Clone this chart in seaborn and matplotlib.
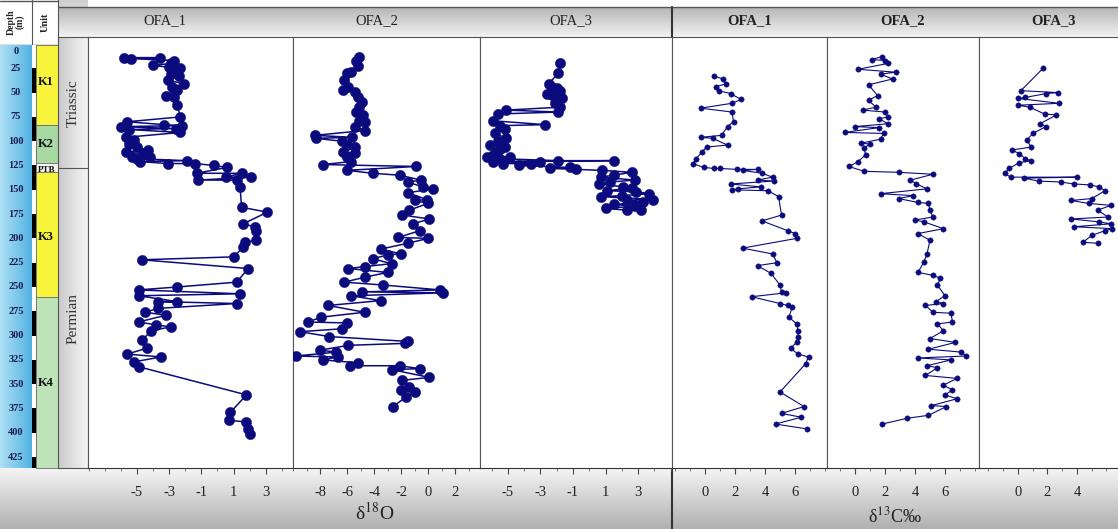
import numpy as np
import pandas as pd
import seaborn as sns
import matplotlib.pyplot as plt
from matplotlib.colors import LinearSegmentedColormap
from matplotlib.ticker import MultipleLocator

sns.set_theme(style="white")
plt.rcParams['font.family'] = ['Liberation Serif', 'DejaVu Serif']
plt.rcParams['mathtext.fontset'] = 'stix'

W, H = 1118, 529
NAVY = '#0b0b7d'

# ---- data (depth in m, isotope values in per mil) ----
d18o_1_depth = [14, 15, 14, 22, 17, 20, 24, 27, 25, 31, 33, 37, 41, 44, 47, 53, 55, 63, 75, 84, 85, 80,
                83, 88, 87, 91, 96, 99, 103, 106, 111, 113, 116, 109, 118, 116, 121, 123, 120, 123, 125,
                127, 133, 140, 137, 133, 137, 140, 147, 168, 173, 185, 188, 192, 202, 204, 209, 219,
                222, 231, 245, 250, 253, 257, 259, 265, 267, 265, 272, 279, 276, 286, 291, 289, 295,
                305, 313, 319, 322, 327, 332, 361, 379, 387, 389, 396, 401]
d18o_1 = [-5.8, -5.4, -3.6, -4.0, -2.7, -2.9, -3.0, -2.6, -2.3, -2.9, -2.4, -3.1, -2.1, -2.8, -2.5, -3.2,
          -2.7, -2.5, -2.3, -2.2, -6.0, -5.6, -3.3, -5.5, -2.6, -2.3, -5.7, -5.2, -5.5, -5.0, -5.7, -4.6,
          -5.3, -4.3, -5.0, -4.2, -4.8, -3.1, -1.9, -1.4, -0.2, 0.6, -1.3, -1.2, 0.5, 1.5, 2.1, 1.2, 1.4,
          1.5, 3.1, 1.6, 2.3, 2.4, 2.4, 1.7, 1.6, 1.0, -4.7, 1.9, 1.2, -2.5, -4.9, 1.4, -4.9, -2.5, 1.2,
          -3.7, -3.7, -3.2, -4.5, -4.9, -2.9, -3.8, -4.1, -4.7, -4.4, -5.6, -3.5, -5.2, -4.9, 1.8, 0.8,
          0.7, 1.8, 1.9, 2.0]

d18o_2_depth = [13, 18, 23, 30, 29, 37, 44, 47, 49, 55, 60, 65, 70, 73, 79, 80, 85, 89, 94, 97, 96, 100,
                104, 106, 111, 116, 112, 121, 124, 126, 130, 133, 135, 142, 140, 147, 149, 153, 161,
                160, 164, 171, 176, 180, 185, 192, 199, 200, 205, 216, 211, 217, 221, 226, 231, 229,
                235, 245, 240, 248, 253, 256, 259, 255, 264, 269, 276, 281, 287, 286, 293, 296, 301,
                306, 308, 310, 315, 317, 321, 325, 322, 331, 328, 335, 331, 334, 343, 346, 353, 356,
                358, 363, 373]
d18o_2 = [-5.1, -5.3, -5.2, -6.0, -5.7, -6.2, -5.9, -6.3, -5.4, -5.2, -4.9, -5.1, -5.3, -4.8, -5.1, -4.7,
          -5.4, -4.7, -8.4, -8.3, -5.6, -6.4, -6.0, -5.4, -6.3, -6.0, -5.4, -5.7, -7.8, -0.9, -6.0, -4.1,
          -2.1, -1.5, -0.5, -0.4, 0.4, -1.5, -1.0, -0.1, 0.0, -1.4, -1.9, 0.1, -1.1, -0.6, -2.2, 0.0,
          -1.5, -2.0, -3.5, -3.0, -4.1, -2.7, -5.9, -4.7, -3.0, -6.2, -4.7, -3.3, 0.9, 1.1, -5.7, -4.9,
          -3.5, -7.4, -4.7, -7.9, -6.0, -8.9, -6.4, -9.5, -7.3, -1.5, -1.7, -5.9, -8.0, -6.8, -9.8,
          -7.8, -6.7, -5.8, -5.2, -2.7, -2.1, -0.6, 0.1, -1.9, -1.4, -2.0, -1.0, -1.6, -2.6]

d18o_3_depth = [20, 30, 41, 44, 45, 48, 51, 52, 56, 58, 61, 65, 70, 68, 72, 79, 84, 83, 87, 92, 97, 100,
                104, 106, 108, 111, 114, 116, 116, 118, 121, 123, 125, 123, 121, 120, 120, 128, 127,
                129, 130, 132, 135, 137, 140, 142, 144, 147, 148, 151, 152, 154, 156, 157, 160, 161,
                163, 165, 167, 169, 171, 171]
d18o_3 = [-1.8, -1.9, -2.5, -2.3, -2.0, -1.8, -2.6, -2.3, -1.7, -2.0, -2.1, -1.8, -1.9, -5.1, -5.6, -5.9,
          -5.5, -2.7, -5.2, -5.8, -5.1, -5.6, -6.1, -5.2, -5.5, -5.7, -5.9, -6.3, -4.9, -5.5, -5.9, -5.3,
          -4.3, -3.6, -3.0, -1.9, 1.5, -2.4, -1.2, -0.8, 0.8, 2.6, 1.5, 0.7, 2.8, 1.3, 0.6, 2.1, 2.6,
          1.1, 2.9, 3.7, 2.0, 0.7, 3.9, 2.3, 3.3, 1.5, 2.8, 1.0, 2.3, 3.2]

d13c_1_depth = [33, 36, 41, 44, 48, 51, 57, 61, 66, 70, 80, 85, 94, 96, 97, 104, 106, 111, 118, 123, 127,
                128, 128, 129, 130, 129, 133, 137, 140, 141, 144, 147, 149, 150, 151, 157, 176, 182,
                192, 195, 200, 210, 216, 225, 228, 236, 248, 255, 256, 260, 267, 269, 271, 281, 288,
                295, 301, 307, 313, 319, 322, 329, 358, 373, 380, 384, 391, 396]
d13c_1 = [0.6, 1.2, 1.4, 0.7, 0.9, 1.7, 2.4, 1.8, -0.3, 1.8, 1.9, 1.5, 1.1, -0.3, 0.5, 1.5, 0.1, -0.2,
          -0.6, -0.8, -0.1, 0.6, 1.0, 2.1, 2.5, 3.5, 3.8, 4.5, 3.5, 4.6, 1.7, 3.7, 2.2, 1.8, 4.2, 4.9,
          5.1, 3.8, 5.5, 6.0, 6.1, 2.5, 4.5, 4.8, 3.5, 4.4, 5.0, 5.1, 5.4, 3.1, 5.0, 5.5, 5.8, 5.6, 6.1,
          6.2, 6.2, 6.1, 5.7, 6.2, 6.9, 6.7, 5.0, 6.6, 5.1, 6.4, 4.7, 6.8]

d13c_2_depth = [13, 16, 17, 20, 26, 29, 31, 36, 42, 53, 58, 65, 68, 70, 75, 77, 82, 85, 86, 91, 92, 98,
                102, 103, 107, 114, 121, 126, 131, 132, 134, 140, 144, 149, 154, 156, 159, 163, 164,
                171, 178, 181, 183, 190, 195, 202, 216, 224, 235, 238, 241, 248, 259, 265, 267, 269,
                276, 277, 286, 288, 295, 303, 307, 314, 317, 321, 323, 325, 331, 333, 341, 344, 351,
                356, 361, 365, 372, 373, 382, 385, 391]
d13c_2 = [1.8, 1.1, 2.0, 2.2, 0.2, 2.7, 1.7, 2.5, 0.9, 1.5, 0.9, 1.4, 0.5, 2.0, 2.2, 1.6, 2.2, 0.0, 1.6,
          -0.7, 1.9, 1.7, 0.4, 1.0, 0.6, 0.7, 0.2, -0.4, 0.6, 2.9, 5.2, 3.7, 4.1, 4.8, 1.7, 3.9, 2.9,
          4.2, 4.9, 5.0, 5.2, 4.0, 4.6, 5.9, 4.2, 5.0, 4.8, 4.6, 4.2, 5.2, 5.7, 5.5, 6.0, 5.4, 5.9, 4.7,
          5.2, 6.4, 6.5, 5.5, 5.9, 5.0, 6.7, 4.9, 7.1, 7.4, 4.2, 6.4, 4.8, 5.5, 4.7, 6.8, 5.9, 6.5, 6.0,
          6.8, 5.1, 6.1, 4.9, 3.5, 1.8]

d13c_3_depth = [25, 48, 50, 51, 55, 56, 61, 63, 65, 72, 73, 82, 85, 92, 99, 106, 109, 113, 118, 120, 122,
                128, 133, 137, 138, 141, 137, 142, 144, 145, 147, 151, 159, 161, 164, 166, 171, 178,
                180, 183, 185, 188, 190, 192, 197, 204, 205]
d13c_3 = [1.7, 0.2, 2.7, 1.9, 0.5, 0.0, 2.8, 0.0, 0.8, 1.8, 2.6, 1.5, 1.9, 1.0, 0.6, 0.9, -0.4, 0.1, 0.5,
          0.9, 0.1, -0.6, -0.9, -0.5, 0.4, 1.4, 4.0, 2.9, 3.8, 4.9, 5.5, 5.9, 5.0, 3.6, 4.8, 6.3, 5.4,
          6.1, 3.6, 5.5, 6.3, 3.8, 6.4, 5.9, 5.0, 4.4, 5.4]

# stratigraphic columns
depth_ticks = list(range(0, 426, 25))
unit_names = ['K1', 'K2', 'PTB', 'K3', 'K4']
unit_tops = [-2, 83, 122, 132, 260]
unit_bases = [83, 122, 132, 260, 440]
unit_label_depth = [39, 103, 130, 199, 349]
unit_colors = ['#f8f43c', '#a9d9a3', '#f6f6f0', '#f8f43c', '#bfe3b8']
period_names = ['Triassic', 'Permian']
period_tops = [-9, 128]
period_bases = [128, 440]

# panel setup: header, x-limits, major ticks, marker size, line width
panels = [
    ('OFA_1', d18o_1_depth, d18o_1, (-8.04, 4.69), [-5, -3, -1, 1, 3], 55, 1.1),
    ('OFA_2', d18o_2_depth, d18o_2, (-10.0, 3.85), [-8, -6, -4, -2, 0, 2], 55, 1.1),
    ('OFA_3', d18o_3_depth, d18o_3, (-6.72, 5.09), [-5, -3, -1, 1, 3], 55, 1.1),
    ('OFA_1', d13c_1_depth, d13c_1, (-2.2, 8.13), [0, 2, 4, 6], 15, 0.8),
    ('OFA_2', d13c_2_depth, d13c_2, (-1.87, 8.27), [0, 2, 4, 6], 15, 0.8),
    ('OFA_3', d13c_3_depth, d13c_3, (-2.64, 6.78), [0, 2, 4], 15, 0.8),
]
panel_edges = [88, 293, 480, 672, 827, 979, 1118]
header_x = [165, 377, 571, 750, 903, 1054]


def depth_at(ypx):
    return (ypx - 44) / 0.972


def px_axes(fig, x0, y0, x1, y1):
    return fig.add_axes([x0 / W, 1 - y1 / H, (x1 - x0) / W, (y1 - y0) / H])


def grad(ax, extent, c0, c1, vertical=True):
    cmap = LinearSegmentedColormap.from_list('g', [c0, c1])
    g = np.linspace(0, 1, 128)
    g = g.reshape(-1, 1) if vertical else g.reshape(1, -1)
    ax.imshow(g, cmap=cmap, extent=extent, aspect='auto', origin='upper', interpolation='bilinear')


fig = plt.figure(figsize=(W / 100, H / 100), dpi=100)

# background: headers and bottom band
bg = fig.add_axes([0, 0, 1, 1])
grad(bg, (58, 88, 37, 0), '#cfcfcf', '#f0f0f0')
grad(bg, (58, W, 37, 7), '#b5b5b5', '#f3f3f3')
grad(bg, (0, W, H, 468), '#f5f5f5', '#b0b0b0')
bg.plot([58, W], [7, 7], color='#555555', lw=1)
bg.plot([0, 58], [0.5, 0.5], color='#555555', lw=1)
bg.plot([0, 58], [45, 45], color='#555555', lw=1)
bg.plot([32, 32], [0, 45], color='#555555', lw=0.8)
bg.plot([57.5, 57.5], [0, 45], color='#555555', lw=0.8)
bg.plot([672, 672], [7, H], color='#333333', lw=1.5)
bg.text(16, 22, 'Depth\n(m)', rotation=90, ha='center', va='center', fontsize=7,
        fontweight='bold', linespacing=0.9)
bg.text(45, 22, 'Unit', rotation=90, ha='center', va='center', fontsize=7.5, fontweight='bold')
for i, (name, *_rest) in enumerate(panels):
    bg.text(header_x[i], 21, name, ha='center', va='center', fontsize=10.5,
            fontweight='bold' if i >= 3 else 'normal', color='#222222')
bg.text(375, 513, 'δ$^{18}$O', ha='center', va='center', fontsize=14, color='#222222')
bg.text(895, 516, 'δ$^{13}$C‰', ha='center', va='center', fontsize=13, color='#222222')
bg.set_xlim(0, W)
bg.set_ylim(H, 0)
bg.axis('off')

# depth column
ax_d = px_axes(fig, 0, 45, 32, 468)
lim_d = (depth_at(468), depth_at(45))
grad(ax_d, (0, 1, lim_d[0], lim_d[1]), '#aee0f5', '#52b2e3', vertical=False)
for d in depth_ticks:
    ax_d.text(0.5, d + (3 if d == 0 else 0), str(d), ha='center', va='top' if d == 0 else 'center',
              fontsize=7.5, fontweight='bold', color='#1b1b4f', clip_on=False)
ax_d.set_xlim(0, 1)
ax_d.set_ylim(*lim_d)
ax_d.axis('off')

# black/white scale bar
ax_s = px_axes(fig, 32, 45, 36, 468)
ax_s.set_facecolor('white')
for top in range(25, 437, 50):
    ax_s.axhspan(top, top + 25, color='black', lw=0)
ax_s.set_ylim(*lim_d)
ax_s.set_xticks([])
ax_s.set_yticks([])
for sp in ax_s.spines.values():
    sp.set_visible(False)

# unit column
ax_u = px_axes(fig, 36, 45, 58, 468)
for name, t, b, ld, c in zip(unit_names, unit_tops, unit_bases, unit_label_depth, unit_colors):
    ax_u.axhspan(t, b, color=c, lw=0)
    ax_u.axhline(b, color='#666666', lw=0.6)
    ax_u.text(0.08 if name != 'PTB' else 0.5, ld, name, ha='left' if name != 'PTB' else 'center',
              va='center', fontsize=9 if name != 'PTB' else 6.5, fontweight='bold', color='#111111')
ax_u.set_ylim(*lim_d)
ax_u.set_xlim(0, 1)
ax_u.set_xticks([])
ax_u.set_yticks([])
for sp in ax_u.spines.values():
    sp.set_color('#666666')
    sp.set_linewidth(0.6)

# period column
ax_p = px_axes(fig, 58, 37, 88, 468)
lim_p = (depth_at(468), depth_at(37))
grad(ax_p, (0, 1, lim_p[0], lim_p[1]), '#c9c9c9', '#f6f6f6', vertical=False)
for name, t, b in zip(period_names, period_tops, period_bases):
    ax_p.axhline(b, color='#555555', lw=0.8)
    ax_p.text(0.5, (max(t, lim_p[1]) + min(b, lim_p[0])) / 2, name,
              rotation=90, ha='center', va='center', fontsize=11, color='#333333')
ax_p.set_xlim(0, 1)
ax_p.set_ylim(*lim_p)
ax_p.set_xticks([])
ax_p.set_yticks([])
for sp in ax_p.spines.values():
    sp.set_color('#555555')
    sp.set_linewidth(0.8)

# isotope panels
lim_y = (depth_at(468), depth_at(37))
for i, (name, dep, val, xlim, ticks, ms, lw) in enumerate(panels):
    ax = px_axes(fig, panel_edges[i], 37, panel_edges[i + 1], 468)
    ax.set_facecolor('white')
    df = pd.DataFrame({'depth': dep, 'value': val}).sort_values('depth', kind='stable')
    sns.lineplot(data=df, x='value', y='depth', sort=False, estimator=None, color=NAVY,
                 lw=lw, ax=ax)
    sns.scatterplot(data=df, x='value', y='depth', s=ms, color=NAVY, edgecolor=NAVY,
                    linewidth=0.3, ax=ax, legend=False, zorder=3)
    ax.set_xlim(*xlim)
    ax.set_ylim(*lim_y)
    ax.set_xticks(ticks)
    ax.set_xticklabels([str(t) for t in ticks])
    ax.xaxis.set_minor_locator(MultipleLocator(1))
    ax.set_yticks([])
    ax.set_xlabel('')
    ax.set_ylabel('')
    ax.tick_params(axis='x', which='major', direction='out', length=4, width=0.8,
                   color='#444444', labelsize=10.5, labelcolor='#222222', pad=9, bottom=True)
    ax.tick_params(axis='x', which='minor', direction='out', length=2.5, width=0.6,
                   color='#666666', bottom=True)
    for sp in ax.spines.values():
        sp.set_color('#555555')
        sp.set_linewidth(0.8)
    ax.spines['bottom'].set_color('#333333')
    if i == 5:
        ax.spines['right'].set_visible(False)

fig.savefig('out.png', dpi=100)
